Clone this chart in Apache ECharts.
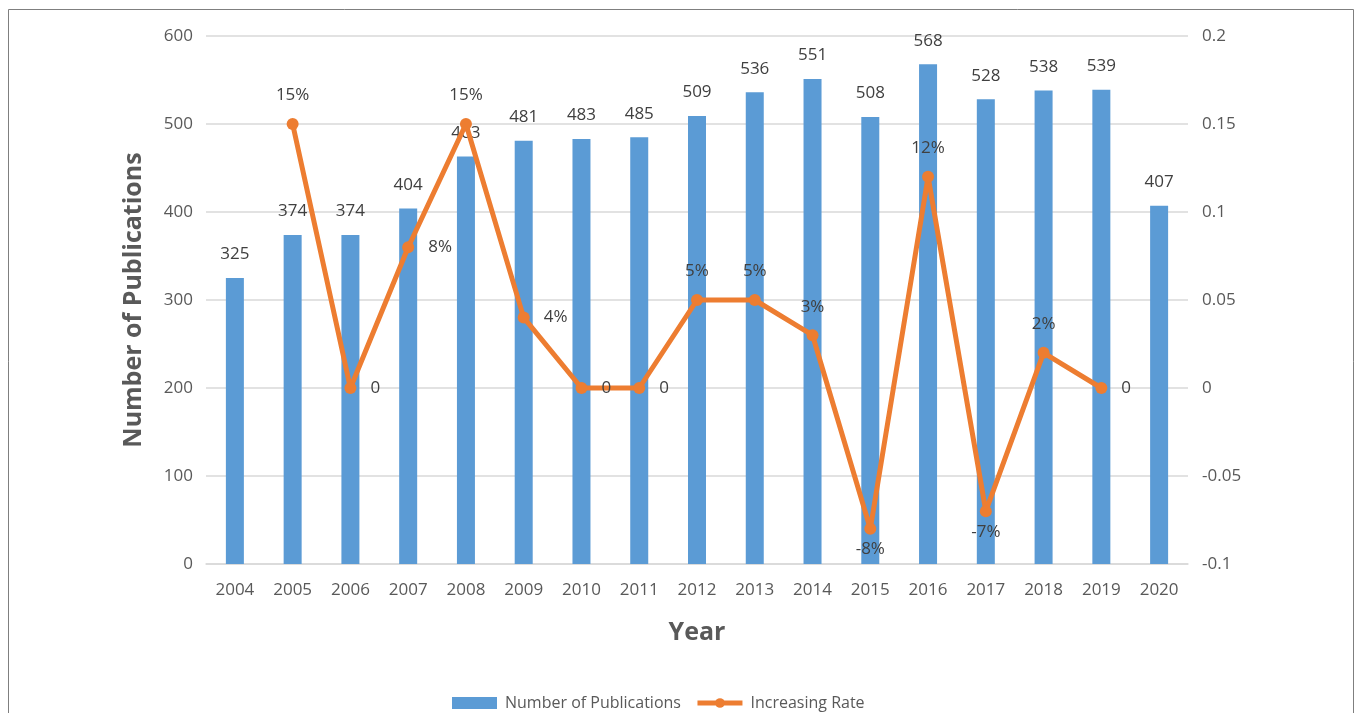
<!DOCTYPE html>
<html>
<head>
<meta charset="utf-8">
<script src="https://cdn.jsdelivr.net/npm/echarts@6/dist/echarts.min.js"></script>
<style>
html,body{margin:0;padding:0;background:#fff;}
#c{width:1357px;height:713px;}
</style>
</head>
<body>
<div id="c"></div>
<script>
const years = ['2004','2005','2006','2007','2008','2009','2010','2011','2012','2013','2014','2015','2016','2017','2018','2019','2020'];
const publications = [325,374,374,404,463,481,483,485,509,536,551,508,568,528,538,539,407];
const increasingRate = [null,0.15,0,0.08,0.15,0.04,0,0,0.05,0.05,0.03,-0.08,0.12,-0.07,0.02,0,null];
const rateLabels = ['', '15%','0','8%','15%','4%','0','0','5%','5%','3%','-8%','12%','-7%','2%','0',''];
const rateLabelPos = ['top','top','right','right','top','right','right','right','top','top','top','bottom','top','bottom','top','right','top'];

const FONT = '"Open Sans", sans-serif';
const chart = echarts.init(document.getElementById('c'));

const lineData = increasingRate.map((v, i) => ({
  value: v,
  label: {
    position: rateLabelPos[i],
    distance: rateLabelPos[i] === 'bottom' ? 6 : 14,
    formatter: () => rateLabels[i]
  }
}));

chart.setOption({
  animation: false,
  textStyle: { fontFamily: FONT },
  graphic: [{
    type: 'rect',
    shape: { x: 8.5, y: 9.5, width: 1345, height: 730 },
    style: { fill: 'none', stroke: '#7f7f7f', lineWidth: 1 },
    silent: true
  }],
  grid: { left: 206, right: 169, top: 36, bottom: 149 },
  legend: {
    top: 690,
    left: 447,
    itemGap: 14,
    itemWidth: 45,
    itemHeight: 12,
    textStyle: { fontFamily: FONT, fontSize: 16, color: '#595959', padding: [0, 0, 0, 3] },
    data: [
      { name: 'Number of Publications', icon: 'rect' },
      { name: 'Increasing Rate', itemStyle: { color: '#ED7D31' }, lineStyle: { width: 5, color: '#ED7D31' } }
    ]
  },
  xAxis: {
    type: 'category',
    data: years,
    name: 'Year',
    nameLocation: 'middle',
    nameGap: 56,
    nameTextStyle: { fontFamily: FONT, fontSize: 25, fontWeight: 'bold', color: '#595959' },
    axisLine: { lineStyle: { color: '#d9d9d9', width: 1.5 } },
    axisTick: { show: false },
    axisLabel: { fontFamily: FONT, fontSize: 17, color: '#595959', margin: 18 }
  },
  yAxis: [{
    type: 'value',
    min: 0, max: 600, interval: 100,
    name: 'Number of Publications',
    nameLocation: 'middle',
    nameGap: 60,
    nameTextStyle: { fontFamily: FONT, fontSize: 25, fontWeight: 'bold', color: '#595959' },
    axisLine: { show: false },
    axisTick: { show: false },
    splitLine: { lineStyle: { color: '#d9d9d9', width: 1.5 } },
    axisLabel: { fontFamily: FONT, fontSize: 17, color: '#595959', margin: 13 }
  }, {
    type: 'value',
    min: -0.1, max: 0.2, interval: 0.05,
    axisLine: { show: false },
    axisTick: { show: false },
    splitLine: { show: false },
    axisLabel: {
      fontFamily: FONT, fontSize: 17, color: '#595959', margin: 14,
      formatter: v => String(parseFloat(v.toFixed(2)))
    }
  }],
  series: [{
    name: 'Number of Publications',
    type: 'bar',
    data: publications,
    barWidth: 18,
    itemStyle: { color: '#5B9BD5' },
    label: {
      show: true, position: 'top', distance: 15,
      fontFamily: FONT, fontSize: 17, color: '#404040'
    }
  }, {
    name: 'Increasing Rate',
    type: 'line',
    yAxisIndex: 1,
    data: lineData,
    symbol: 'circle',
    symbolSize: 12,
    connectNulls: false,
    lineStyle: { color: '#ED7D31', width: 5 },
    itemStyle: { color: '#ED7D31' },
    label: {
      show: true,
      fontFamily: FONT, fontSize: 17, color: '#404040'
    },
    z: 3
  }]
});
</script>
</body>
</html>
